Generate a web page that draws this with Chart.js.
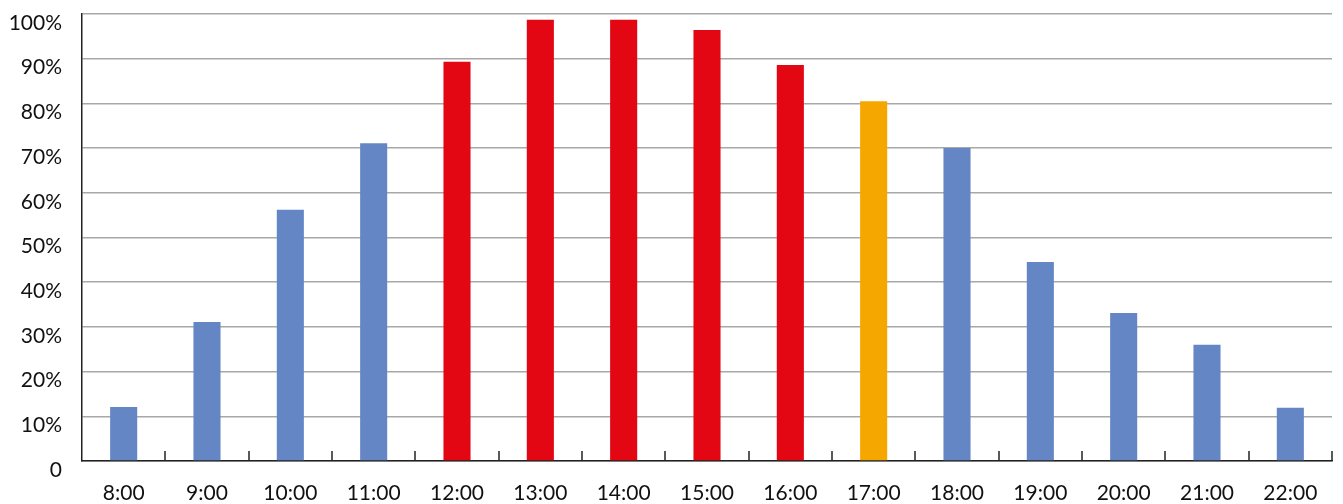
<!DOCTYPE html>
<html>
<head>
<meta charset="utf-8">
<script src="https://cdn.jsdelivr.net/npm/chart.js@4/dist/chart.umd.min.js"></script>
<style>
  html, body { margin: 0; padding: 0; background: #fff; }
  #wrap { width: 1343px; height: 504px; }
</style>
</head>
<body>
<div id="wrap"><canvas id="myChart"></canvas></div>
<script>
const hours = ['8:00', '9:00', '10:00', '11:00', '12:00', '13:00', '14:00', '15:00',
  '16:00', '17:00', '18:00', '19:00', '20:00', '21:00', '22:00'];
const occupancy = [12.1, 31.1, 56.2, 71.1, 89.3, 98.7, 98.7, 96.4, 88.6, 80.5, 70.0, 44.5, 33.1, 26.0, 11.9];
const barColors = ['#6586c5', '#6586c5', '#6586c5', '#6586c5', '#e30613', '#e30613', '#e30613', '#e30613',
  '#e30613', '#f5a700', '#6586c5', '#6586c5', '#6586c5', '#6586c5', '#6586c5'];
const yTicks = [0, 10, 20, 30, 40, 50, 60, 70, 80, 90, 100];

// small tick marks pointing up from the baseline, between categories
const innerTicks = {
  id: 'innerTicks',
  afterDatasetsDraw(chart) {
    const { ctx, scales: { x }, chartArea } = chart;
    const step = x.getPixelForValue(1) - x.getPixelForValue(0);
    ctx.save();
    ctx.strokeStyle = '#222';
    ctx.lineWidth = 1.5;
    for (let i = 1; i <= hours.length; i++) {
      const px = Math.round(x.getPixelForValue(0) - step / 2 + i * step);
      ctx.beginPath();
      ctx.moveTo(px, chartArea.bottom);
      ctx.lineTo(px, chartArea.bottom - 10);
      ctx.stroke();
    }
    ctx.restore();
  }
};

const font = { family: 'Lato', size: 21 };

new Chart(document.getElementById('myChart'), {
  type: 'bar',
  data: {
    labels: hours,
    datasets: [{
      data: occupancy,
      backgroundColor: barColors,
      barPercentage: 0.325,
      categoryPercentage: 1,
    }],
  },
  options: {
    responsive: true,
    maintainAspectRatio: false,
    animation: false,
    layout: { padding: { top: 14, right: 11, left: 0, bottom: 0 } },
    plugins: { legend: { display: false }, tooltip: { enabled: false } },
    scales: {
      x: {
        grid: { drawOnChartArea: false, drawTicks: false },
        border: { color: '#222', width: 1.5 },
        ticks: { color: '#111', font, padding: 20, maxRotation: 0 },
        afterFit(s) { s.height = 43; },
      },
      y: {
        min: 0,
        max: 100,
        afterBuildTicks(s) { s.ticks = yTicks.map(v => ({ value: v })); },
        grid: { color: '#a8a8a8', lineWidth: 1.5, drawTicks: false },
        border: { color: '#222', width: 1.5 },
        ticks: {
          color: '#111', font, padding: 20, labelOffset: 9,
          callback: v => (v === 0 ? '0' : v + '%'),
        },
        afterFit(s) { s.width = 82; s.paddingTop = 0; s.paddingBottom = 0; },
      },
    },
  },
  plugins: [innerTicks],
});
</script>
</body>
</html>
